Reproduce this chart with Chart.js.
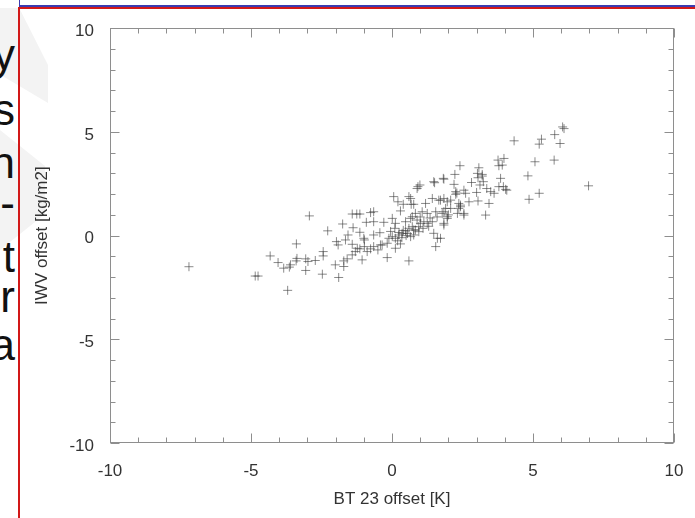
<!DOCTYPE html>
<html>
<head>
<meta charset="utf-8">
<script src="https://cdn.jsdelivr.net/npm/chart.js@4/dist/chart.umd.min.js"></script>
<style>
    body { margin: 0; width: 695px; height: 518px; overflow: hidden; background: #fff; position: relative; font-family: 'Liberation Sans', Arial, sans-serif; }
    .line { position: absolute; }
    .side { position: absolute; right: 680px; font-size: 44px; line-height: 44px; color: #111; white-space: nowrap; }
    .shade { position: absolute; background: #f3f3f3; }
    #chart { position: absolute; left: 20px; top: 10px; }
</style>
</head>
<body>
<div class="shade" style="left:0;top:8px;width:48px;height:95px;clip-path:polygon(0 0,40% 0,100% 60%,100% 100%,0 70%)"></div>
<div class="shade" style="left:0;top:130px;width:45px;height:120px;clip-path:polygon(0 0,100% 30%,100% 70%,0 100%)"></div>

<div class="side" style="top:33px">y</div>
<div class="side" style="top:88px">s</div>
<div class="side" style="top:141px">n</div>
<div class="side" style="top:181px">-</div>
<div class="side" style="top:235px">t</div>
<div class="side" style="top:275px">r</div>
<div class="side" style="top:323px">a</div>

<div class="line" style="left:19px;top:0;width:1px;height:6px;background:#3b3bb0"></div>
<div class="line" style="left:19px;top:5px;width:676px;height:2px;background:#3b3bb0"></div>
<div class="line" style="left:19px;top:7px;width:676px;height:2px;background:#d21818"></div>
<div class="line" style="left:18px;top:7px;width:2px;height:511px;background:#d21818"></div>

<canvas id="chart" width="675" height="508"></canvas>

<script>
// BT 23 offset [K] vs IWV offset [kg/m2]
const btOffset = [
    -7.20, -4.85, -4.75, -3.70, -4.32, -4.04, -3.84, -3.64, -3.60, -3.40,
    -3.37, -3.39, -3.06, -2.98, -3.06, -2.72, -2.44, -2.44, -2.47, -2.93,
    -2.28, -1.89, -1.75, -1.41, -1.25, -1.14, -0.76, -0.65, -0.91, -0.65,
    -0.29, -1.38, -1.56, -1.14, -1.97, -1.91, -1.65, -1.41, -0.98, -0.65,
    -0.43, 0.01, 0.06, 0.21, 0.40, 0.60, 0.68, 0.89, 0.30, 0.12,
    0.48, 0.66, 0.83, 0.89, -1.71, -1.59, -1.41, -1.30, -1.14, -1.06,
    -0.88, -0.76, -0.65, -0.50, -0.35, -0.17, -0.11, 0.01, 0.12, 0.24,
    0.36, 0.48, 0.60, 0.77, 0.95, -0.17, 0.60, 0.12, -2.01, -1.71,
    2.41, 3.08, 2.23, 1.82, 1.51, 0.92, 0.99, 2.20, 2.26, 2.26,
    2.30, 2.55, 2.61, 3.03, 3.20, 2.82, 3.12, 3.36, 3.50, 3.62,
    3.00, 2.73, 3.05, 3.44, 3.32, 3.76, 3.97, 3.79, 3.85, 3.79,
    4.03, 0.66, 0.77, 1.19, 1.43, 1.66, 1.84, 1.96, 2.08, 2.37,
    2.32, 2.55, 2.43, 1.07, 1.25, 1.55, 1.78, 2.08, 0.72, 1.01,
    1.13, 1.25, 1.43, 1.84, 1.96, 0.72, 0.83, 0.95, 0.66, 0.77,
    1.48, 1.61, 1.55, 1.84, 6.05, 6.10, 5.77, 5.96, 5.30, 5.22,
    4.33, 5.75, 5.07, 4.82, 5.22, 4.86, 6.97, 3.91, 3.95, 4.07,
    1.48, 1.84, 0.20, 0.35, 0.50, 0.40, 0.25, 0.55, -0.05, 0.10,
    0.30, 1.10, 1.30, 1.60, 1.00, 1.35, 2.00, -1.00, -0.41, -0.98,
    -1.23, 3.20, 3.05, 3.24, 2.43, 2.37, 2.55, 1.90, 1.84, 1.96,
    1.72, 1.72
]
const iwvOffset = [
    -1.50, -1.95, -1.95, -2.64, -0.98, -1.30, -1.57, -1.52, -1.41, -1.22,
    -1.10, -0.40, -1.12, -1.25, -1.68, -1.20, -0.77, -0.98, -1.86, 0.95,
    0.23, -2.02, 0.56, 1.04, 1.04, 1.04, 1.11, 1.15, 0.64, 0.67,
    0.64, 0.38, 0.03, 0.16, -0.29, -0.45, -0.21, -0.42, -0.21, 0.03,
    0.14, 0.83, 1.88, 1.63, 1.51, 1.88, 1.51, 2.27, 1.19, 0.59,
    0.67, 0.83, 1.07, 0.75, -1.22, -1.12, -0.93, -0.77, -0.64, -1.17,
    -0.77, -0.64, -0.53, -0.69, -0.45, -0.37, -0.13, -0.05, -0.13, 0.03,
    0.11, 0.23, 0.35, 0.27, 0.43, -1.06, -1.22, -0.61, -1.41, -1.49,
    3.37, 3.27, 2.95, 2.76, 2.55, 2.36, 2.44, 2.47, 2.12, 1.99,
    2.05, 2.19, 2.04, 3.00, 2.87, 2.56, 2.44, 2.27, 2.12, 2.04,
    2.08, 1.63, 1.67, 1.55, 0.99, 3.64, 3.72, 3.37, 2.76, 2.36,
    2.23, 1.79, 1.51, 1.55, 1.79, 1.71, 1.79, 1.63, 1.71, 1.55,
    1.07, 1.07, 1.39, 1.15, 1.07, 1.15, 1.07, 1.31, 0.91, 0.59,
    0.67, 0.59, 0.67, 0.59, 0.83, 0.43, 0.27, 0.19, -0.05, 0.03,
    0.11, -0.13, -0.53, 0.51, 5.24, 5.16, 4.87, 4.44, 4.65, 4.41,
    4.57, 3.64, 3.56, 2.88, 2.04, 1.75, 2.40, 3.40, 2.36, 2.19,
    2.60, 2.72, -0.25, -0.10, 0.00, 0.25, 0.15, 0.10, 0.20, 0.35,
    -0.40, 0.35, 0.45, 0.90, 0.90, 0.85, 1.00, -0.13, -0.45, -0.53,
    -0.61, 2.95, 2.79, 2.60, 1.47, 1.31, 0.99, 1.31, 1.15, 0.91,
    1.71, -0.13
]
const xTicks = [-10, -5, 0, 5, 10]
const yTicks = [-10, -5, 0, 5, 10]

const tickFont = { family: "'Liberation Sans', Arial, sans-serif", size: 17 }

// IDL-like box with inward major/minor ticks on all four sides
const frameTicks = {
    id: 'frameTicks',
    beforeDatasetsDraw(chart) {
        const { ctx, chartArea: a, scales: { x, y } } = chart
        ctx.save()
        ctx.strokeStyle = '#8e8e8e'
        ctx.lineWidth = 1
        const l = Math.round(a.left) + 0.5
        const r = Math.round(a.right) - 0.5
        const t = Math.round(a.top) + 0.5
        const b = Math.round(a.bottom) - 0.5
        ctx.strokeRect(l, t, r - l, b - t)
        ctx.beginPath()
        for (let v = x.min; v <= x.max; v++) {
            const len = v % 5 === 0 ? 9 : 5
            const px = Math.round(x.getPixelForValue(v)) + 0.5
            ctx.moveTo(px, b); ctx.lineTo(px, b - len)
            ctx.moveTo(px, t); ctx.lineTo(px, t + len)
        }
        for (let v = y.min; v <= y.max; v++) {
            const len = v % 5 === 0 ? 9 : 5
            const py = Math.round(y.getPixelForValue(v)) + 0.5
            ctx.moveTo(l, py); ctx.lineTo(l + len, py)
            ctx.moveTo(r, py); ctx.lineTo(r - len, py)
        }
        ctx.stroke()
        ctx.restore()
    }
}

const ctx = document.getElementById('chart').getContext('2d')
new Chart(ctx, {
    type: 'scatter',
    data: {
        datasets: [{
            data: btOffset.map((v, i) => ({ x: v, y: iwvOffset[i] })),
            pointStyle: 'cross',
            pointRadius: 4.5,
            pointHoverRadius: 4.5,
            borderWidth: 1,
            borderColor: 'rgba(60, 60, 60, 0.6)'
        }]
    },
    options: {
        responsive: false,
        animation: false,
        events: [],
        layout: { padding: { left: 0, right: 21, top: 17, bottom: 0 } },
        plugins: { legend: { display: false }, tooltip: { enabled: false } },
        scales: {
            x: {
                type: 'linear',
                min: -10,
                max: 10,
                afterBuildTicks: scale => { scale.ticks = xTicks.map(v => ({ value: v })) },
                afterFit: scale => { scale.height = 75 },
                grid: { display: false },
                border: { display: false },
                ticks: { font: tickFont, color: '#333', padding: 10, maxRotation: 0 },
                title: { display: true, text: 'BT 23 offset [K]', font: tickFont, color: '#333', padding: { top: 0, bottom: 8 } }
            },
            y: {
                type: 'linear',
                min: -10,
                max: 10,
                afterBuildTicks: scale => { scale.ticks = yTicks.map(v => ({ value: v })) },
                afterFit: scale => { scale.width = 90 },
                grid: { display: false },
                border: { display: false },
                ticks: { font: tickFont, color: '#333', padding: 8, labelOffset: 3 },
                title: { display: true, text: 'IWV offset [kg/m2]', font: tickFont, color: '#333', padding: { top: 12, bottom: 0 } }
            }
        }
    },
    plugins: [frameTicks]
})
</script>
</body>
</html>
